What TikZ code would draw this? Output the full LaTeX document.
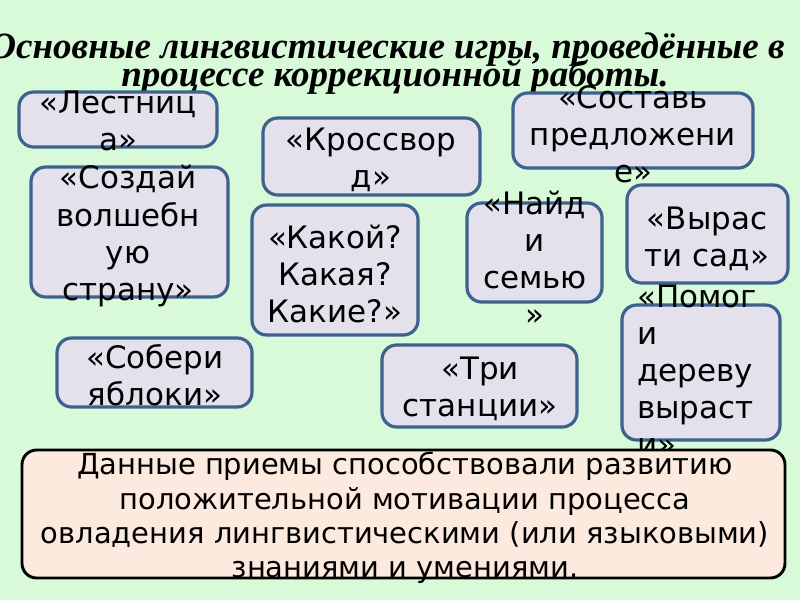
\documentclass[tikz,border=0pt]{standalone}
\usepackage{fontspec}
\setmainfont{DejaVu Sans}
\newfontfamily\titlefont{Liberation Serif}
\usetikzlibrary{fit}
\definecolor{bgcol}{RGB}{217,250,217}
\definecolor{boxfill}{RGB}{228,224,236}
\definecolor{boxline}{RGB}{62,98,142}
\definecolor{notefill}{RGB}{253,234,222}
\tikzset{
  gamebox/.style={draw=boxline, fill=boxfill, line width=2.4pt, rounded corners=11pt, inner sep=0pt},
  notebox/.style={draw=black, fill=notefill, line width=2.2pt, rounded corners=11pt, inner sep=0pt},
  gtext/.style={inner sep=0pt, align=center, font=\fontsize{23.2}{27.8}\selectfont},
  ltext/.style={inner sep=0pt, align=left, font=\fontsize{23.2}{27.8}\selectfont},
  ntext/.style={inner sep=0pt, align=center, font=\fontsize{21.7}{25.7}\selectfont},
  ttext/.style={inner sep=0pt, anchor=base, font=\titlefont\bfseries\itshape\fontsize{27.8}{21}\selectfont},
}
\begin{document}
\begin{tikzpicture}[x=0.75pt,y=-0.75pt]
\useasboundingbox (0,0) rectangle (800,600);
\fill[bgcol] (0,0) rectangle (800,600);
\clip (0,0) rectangle (800,600);
% title
\node[ttext] (title1) at (387,58) {Основные лингвистические игры, проведённые в};
\node[ttext] (title2) at (395,86) {процессе коррекционной работы.};
% boxes
\node[gamebox, fit={(19,92) (217,147)}] (b1) {};
\node[gamebox, fit={(31,167) (228,297)}] (b2) {};
\node[gamebox, fit={(263,118) (480,195)}] (b3) {};
\node[gamebox, fit={(252,205) (418,335)}] (b4) {};
\node[gamebox, fit={(513,93) (753,168)}] (b5) {};
\node[gamebox, fit={(467,203) (602,302)}] (b6) {};
\node[gamebox, fit={(627,185) (788,283)}] (b7) {};
\node[gamebox, fit={(622,305) (780,440)}] (b8) {};
\node[gamebox, fit={(57,338) (252,407)}] (b9) {};
\node[gamebox, fit={(382,345) (577,427)}] (b10) {};
% texts
\node[gtext] (t1) at (118,121) {«Лестниц\\а»};
\node[gtext] (t2) at (128,236) {«Создай\\волшебн\\ую\\страну»};
\node[gtext] (t3) at (371,160) {«Кроссвор\\д»};
\node[gtext] (t4) at (335,274) {«Какой?\\Какая?\\Какие?»};
\node[gtext] (t5) at (633,134) {«Составь\\предложени\\е»};
\node[gtext] (t6) at (535,258) {«Найд\\и\\семью\\»};
\node[gtext] (t7) at (707,239) {«Вырас\\ти сад»};
\node[ltext, anchor=west] (t8) at (637,370) {«Помог\\и\\дереву\\выраст\\и»};
\node[gtext] (t9) at (155,375) {«Собери\\яблоки»};
\node[gtext] (t10) at (480,389) {«Три\\станции»};
% bottom note
\node[notebox, fit={(22,450) (785,578)}] (note) {};
\node[ntext] (nt) at (405,518) {Данные приемы способствовали развитию\\положительной мотивации процесса\\овладения лингвистическими (или языковыми)\\знаниями и умениями.};
\end{tikzpicture}
\end{document}
